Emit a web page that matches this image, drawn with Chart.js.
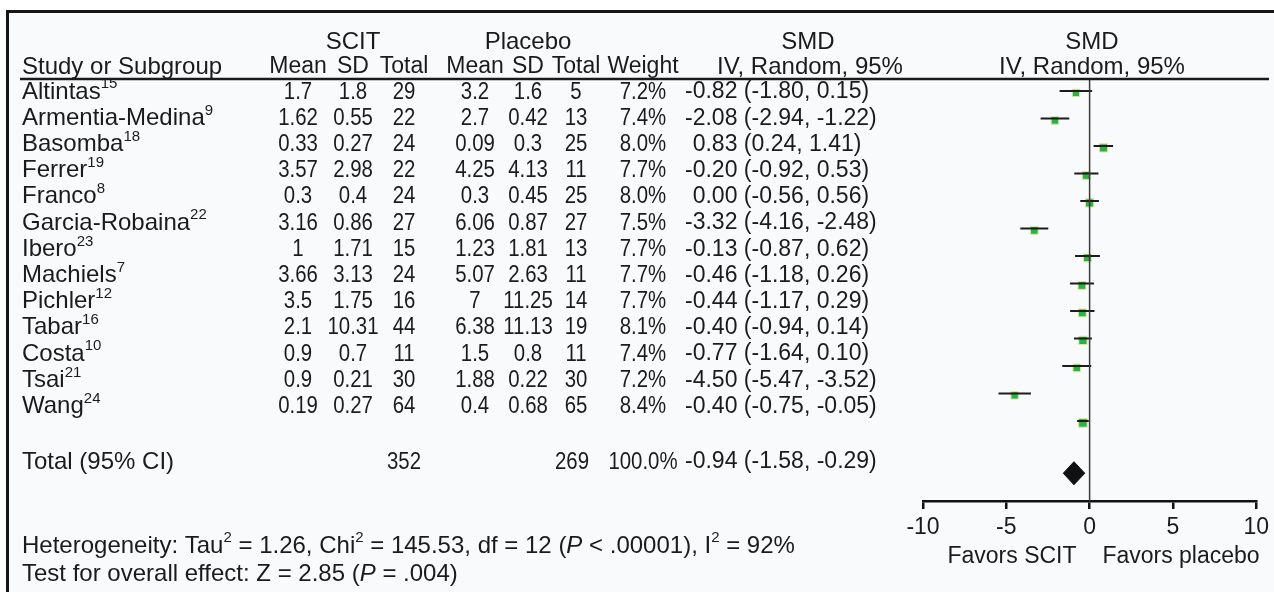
<!DOCTYPE html>
<html>
<head>
<meta charset="utf-8">
<script src="https://cdn.jsdelivr.net/npm/chart.js@4.4.1/dist/chart.umd.min.js"></script>
<style>
    html, body { margin: 0; padding: 0; background: #fff; overflow: hidden; }
    #frame {
        position: absolute; left: 6px; top: 10px; width: 1268px; height: 582px;
        box-sizing: border-box; border-left: 3px solid #161616; border-top: 3px solid #161616;
        background: #f9fafc;
    }
    #wrap { position: absolute; left: 0; top: 0; width: 1274px; height: 592px; }
</style>
</head>
<body>
<div id="frame"></div>
<div id="wrap"><canvas id="forest" width="1274" height="592"></canvas></div>
<script>
// --------- Données -----------------------------
const studies = ["Altintas", "Armentia-Medina", "Basomba", "Ferrer", "Franco", "Garcia-Robaina",
    "Ibero", "Machiels", "Pichler", "Tabar", "Costa", "Tsai", "Wang"];
const refs = ["15", "9", "18", "19", "8", "22", "23", "7", "12", "16", "10", "21", "24"];

const scitMean = ["1.7", "1.62", "0.33", "3.57", "0.3", "3.16", "1", "3.66", "3.5", "2.1", "0.9", "0.9", "0.19"];
const scitSD = ["1.8", "0.55", "0.27", "2.98", "0.4", "0.86", "1.71", "3.13", "1.75", "10.31", "0.7", "0.21", "0.27"];
const scitN = ["29", "22", "24", "22", "24", "27", "15", "24", "16", "44", "11", "30", "64"];

const placMean = ["3.2", "2.7", "0.09", "4.25", "0.3", "6.06", "1.23", "5.07", "7", "6.38", "1.5", "1.88", "0.4"];
const placSD = ["1.6", "0.42", "0.3", "4.13", "0.45", "0.87", "1.81", "2.63", "11.25", "11.13", "0.8", "0.22", "0.68"];
const placN = ["5", "13", "25", "11", "25", "27", "13", "11", "14", "19", "11", "30", "65"];

const weights = [7.2, 7.4, 8.0, 7.7, 8.0, 7.5, 7.7, 7.7, 7.7, 8.1, 7.4, 7.2, 8.4];
const smd = [-0.82, -2.08, 0.83, -0.20, 0.00, -3.32, -0.13, -0.46, -0.44, -0.40, -0.77, -4.50, -0.40];
const ciLow = [-1.80, -2.94, 0.24, -0.92, -0.56, -4.16, -0.87, -1.18, -1.17, -0.94, -1.64, -5.47, -0.75];
const ciHigh = [0.15, -1.22, 1.41, 0.53, 0.56, -2.48, 0.62, 0.26, 0.29, 0.14, 0.10, -3.52, -0.05];

const totalScit = "352";
const totalPlac = "269";
const totalWeight = "100.0%";
const totalSmd = -0.94;
const totalLow = -1.58;
const totalHigh = -0.29;

const xTicks = [-10, -5, 0, 5, 10];

// --------- Mise en page ----------
const FONT = '"Liberation Sans", Arial, sans-serif';
const TXT = "#1b1b1b";
const FS = 24;      // libellés
const FN = 23;      // en-têtes de colonnes, intervalle
const FC = 24;      // cellules numériques (resserrées)
const NARROW = 0.85;
const Y_MIN = -0.4, Y_MAX = 14.91;
const totalRow = studies.length + 0.9;
const rowY = i => 92 + i * 26.2;
const col = { sMean: 298, sSD: 353, sN: 404, pMean: 475, pSD: 528, pN: 576, weight: 643, smd: 685 };

function fmt(v) { return v.toFixed(2); }
function ciText(e, l, h) { return fmt(e) + " (" + fmt(l) + ", " + fmt(h) + ")"; }

// texte riche : [texte, "n" | "sup" | "i"]
function drawRuns(ctx, runs, x, y, size) {
    ctx.textAlign = "left";
    runs.forEach(([t, kind]) => {
        let f = size, dy = 0, style = "";
        if (kind === "sup") { f = Math.round(size * 0.62); dy = -size * 0.32; }
        if (kind === "i") style = "italic ";
        ctx.font = style + f + "px " + FONT;
        ctx.fillText(t, x, y + dy);
        x += ctx.measureText(t).width;
    });
}

// chiffres un peu serrés, comme dans la figure
function fillNarrow(ctx, t, x, y) {
    ctx.save();
    ctx.font = FC + "px " + FONT;
    ctx.textAlign = "center";
    ctx.translate(x, y);
    ctx.scale(NARROW, 1);
    ctx.fillText(t, 0, 0);
    ctx.restore();
}

function drawSmd(ctx, text, y) {
    ctx.font = FN + "px " + FONT;
    ctx.textAlign = "left";
    const shift = text.startsWith("-") ? 0 : ctx.measureText("-").width;
    ctx.fillText(text, col.smd + shift, y);
}

const tablePlugin = {
    id: "table",
    afterDraw(chart) {
        const ctx = chart.ctx;
        ctx.save();
        ctx.fillStyle = TXT;
        ctx.textBaseline = "middle";

        // en-têtes
        ctx.font = FS + "px " + FONT;
        ctx.textAlign = "center";
        ctx.fillText("SCIT", col.sSD, 42);
        ctx.fillText("Placebo", col.pSD, 42);
        ctx.fillText("SMD", 808, 42);
        ctx.fillText("SMD", 1092, 42);
        const h2 = 67;
        ctx.fillText("IV, Random, 95%", 810, h2);
        ctx.fillText("IV, Random, 95%", 1092, h2);
        ctx.font = FN + "px " + FONT;
        [["Mean", col.sMean], ["SD", col.sSD], ["Total", col.sN], ["Mean", col.pMean], ["SD", col.pSD],
         ["Total", col.pN], ["Weight", col.weight]]
            .forEach(([t, x]) => ctx.fillText(t, x, h2));
        ctx.font = FS + "px " + FONT;
        ctx.textAlign = "left";
        ctx.fillText("Study or Subgroup", 22, h2);

        // trait sous l'en-tête
        ctx.strokeStyle = "#1a1a1a";
        ctx.lineWidth = 2.5;
        ctx.beginPath();
        ctx.moveTo(20, 79);
        ctx.lineTo(1269, 79);
        ctx.stroke();

        // lignes d'études
        studies.forEach((name, i) => {
            const y = rowY(i);
            ctx.fillStyle = TXT;
            drawRuns(ctx, [[name, "n"], [refs[i], "sup"]], 22, y, FS);
            [[scitMean[i], col.sMean], [scitSD[i], col.sSD], [scitN[i], col.sN],
             [placMean[i], col.pMean], [placSD[i], col.pSD], [placN[i], col.pN],
             [weights[i].toFixed(1) + "%", col.weight]]
                .forEach(([t, x]) => fillNarrow(ctx, t, x, y));
            drawSmd(ctx, ciText(smd[i], ciLow[i], ciHigh[i]), y);
        });

        // total
        const yt = 462;
        ctx.font = FS + "px " + FONT;
        ctx.textAlign = "left";
        ctx.fillText("Total (95% CI)", 22, yt);
        fillNarrow(ctx, totalScit, col.sN, yt);
        fillNarrow(ctx, totalPlac, col.pN - 4, yt);
        fillNarrow(ctx, totalWeight, col.weight, yt);
        drawSmd(ctx, ciText(totalSmd, totalLow, totalHigh), yt);

        // statistiques
        drawRuns(ctx, [["Heterogeneity: Tau", "n"], ["2", "sup"], [" = 1.26, Chi", "n"], ["2", "sup"],
            [" = 145.53, df = 12 (", "n"], ["P", "i"], [" < .00001), I", "n"], ["2", "sup"], [" = 92%", "n"]],
            22, 546, FS);
        drawRuns(ctx, [["Test for overall effect: Z = 2.85 (", "n"], ["P", "i"], [" = .004)", "n"]], 22, 574, FS);

        // libellés sous l'axe
        ctx.font = FN + "px " + FONT;
        ctx.textAlign = "center";
        ctx.fillText("Favors SCIT", 1012, 557);
        ctx.fillText("Favors placebo", 1181, 557);
        ctx.restore();
    }
};

// --------- Jeux de données du graphique ----------
const zeroLine = [{ x: 0, y: Y_MIN }, { x: 0, y: Y_MAX }];
const ciSegments = studies.flatMap((_, i) => [
    { x: ciLow[i], y: i }, { x: ciHigh[i], y: i }, { x: ciHigh[i], y: null }
]);
// le carré est légèrement sous le trait de l'intervalle, comme sur la figure
const points = studies.map((_, i) => ({ x: smd[i], y: i + 0.07 }));
const dh = 0.42;
const diamond = [
    { x: totalLow, y: totalRow }, { x: totalSmd, y: totalRow - dh },
    { x: totalHigh, y: totalRow }, { x: totalSmd, y: totalRow + dh }, { x: totalLow, y: totalRow }
];

document.addEventListener("DOMContentLoaded", () => {
    const ctx = document.getElementById("forest").getContext("2d");
    new Chart(ctx, {
        type: "scatter",
        data: {
            datasets: [
                { data: zeroLine, showLine: true, borderColor: "#3a3a3a", borderWidth: 1.5, pointRadius: 0 },
                { data: ciSegments, showLine: true, spanGaps: false, borderColor: "#1c1c1c", borderWidth: 2, pointRadius: 0 },
                {
                    data: points, pointStyle: "rect",
                    pointRadius: c => weights[c.dataIndex] * 0.72,
                    backgroundColor: "#27b24a", borderColor: "#dfe89c", borderWidth: 1
                },
                {
                    data: diamond, showLine: true, fill: "shape", pointRadius: 0,
                    borderColor: "#111", backgroundColor: "#111", borderWidth: 1, tension: 0
                }
            ]
        },
        options: {
            responsive: false,
            animation: false,
            layout: { padding: { left: 923, right: 17, top: 80, bottom: 0 } },
            plugins: { legend: { display: false }, tooltip: { enabled: false } },
            scales: {
                x: {
                    type: "linear", min: -10, max: 10, position: "bottom",
                    afterFit: s => { s.height = 91; },
                    afterBuildTicks: s => { s.ticks = xTicks.map(v => ({ value: v })); },
                    ticks: { font: { size: 23, family: FONT }, color: TXT, padding: 5, maxRotation: 0 },
                    grid: { drawOnChartArea: false, drawTicks: true, tickLength: 8, color: "#111", lineWidth: 2.5 },
                    border: { display: true, color: "#111", width: 2.5 }
                },
                y: { type: "linear", display: false, reverse: true, min: Y_MIN, max: Y_MAX }
            }
        },
        plugins: [tablePlugin]
    });
});
</script>
</body>
</html>
